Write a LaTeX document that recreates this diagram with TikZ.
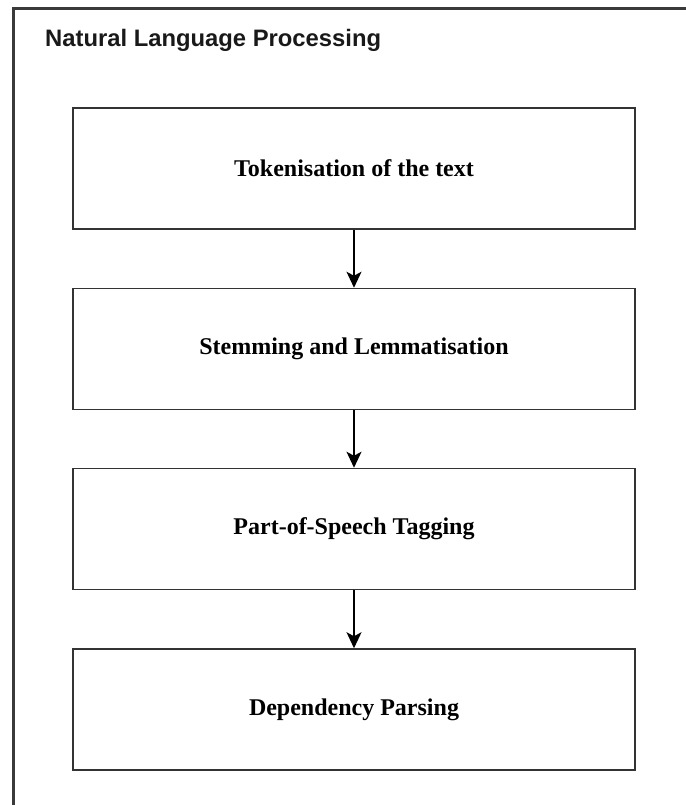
\documentclass[tikz,border=0pt]{standalone}
\usepackage{fontspec}
\setmainfont{Liberation Serif}
\setsansfont{Liberation Sans}
\usetikzlibrary{arrows.meta}
\definecolor{edge}{HTML}{333333}
\definecolor{frameline}{HTML}{3A3A3A}
\tikzset{
  stage/.style={draw=edge, line width=1.5pt, minimum width=562pt, minimum height=121pt,
    inner sep=0pt, font=\fontsize{24}{28}\selectfont\bfseries, text=black},
  flow/.style={draw=black, line width=1.4pt, -{Stealth[length=16pt,width=15pt,inset=4pt]}},
}
\begin{document}
\begin{tikzpicture}[x=1pt,y=-1pt]
\useasboundingbox (0,0) rectangle (685,805);
% outer container, open to the right and bottom edges
\draw[frameline, line width=3pt] (13.5,810) -- (13.5,8.5) -- (690,8.5);
\node[anchor=west, inner sep=0pt, font=\sffamily\bfseries\fontsize{23.8}{28}\selectfont, text=black!90] (title) at (45,40) {Natural Language Processing};
\node[stage] (tok) at (354,168.5) {Tokenisation of the text};
\node[stage] (stem) at (354,349) {Stemming and Lemmatisation};
\node[stage] (pos) at (354,529) {Part-of-Speech Tagging};
\node[stage] (dep) at (354,709.5) {Dependency Parsing};
\draw[flow] (tok) -- (stem);
\draw[flow] (stem) -- (pos);
\draw[flow] (pos) -- (dep);
\end{tikzpicture}
\end{document}
